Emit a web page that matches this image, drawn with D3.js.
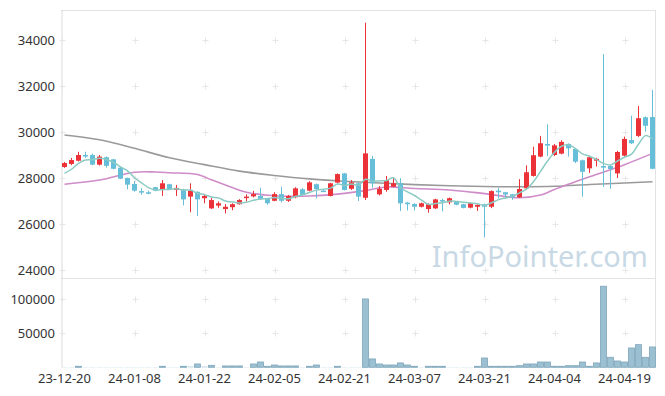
<!DOCTYPE html>
<html>
<head>
<meta charset="utf-8">
<script src="https://cdn.jsdelivr.net/npm/d3@7"></script>
<style>
  body { margin: 0; background: #fff; }
  svg { display: block; font-family: "Noto Sans", sans-serif; }
</style>
</head>
<body>
<svg width="665" height="396"></svg>
<script>
// trading days (YY-MM-DD)
var dates = [
  "23-12-20","23-12-21","23-12-22","23-12-26","23-12-27","23-12-28","24-01-02","24-01-03","24-01-04","24-01-05",
  "24-01-08","24-01-09","24-01-10","24-01-11","24-01-12","24-01-15","24-01-16","24-01-17","24-01-18","24-01-19",
  "24-01-22","24-01-23","24-01-24","24-01-25","24-01-26","24-01-29","24-01-30","24-01-31","24-02-01","24-02-02",
  "24-02-05","24-02-06","24-02-07","24-02-08","24-02-13","24-02-14","24-02-15","24-02-16","24-02-19","24-02-20",
  "24-02-21","24-02-22","24-02-23","24-02-26","24-02-27","24-02-28","24-02-29","24-03-04","24-03-05","24-03-06",
  "24-03-07","24-03-08","24-03-11","24-03-12","24-03-13","24-03-14","24-03-15","24-03-18","24-03-19","24-03-20",
  "24-03-21","24-03-22","24-03-25","24-03-26","24-03-27","24-03-28","24-03-29","24-04-01","24-04-02","24-04-03",
  "24-04-04","24-04-05","24-04-08","24-04-09","24-04-11","24-04-12","24-04-15","24-04-16","24-04-17","24-04-18",
  "24-04-19","24-04-22","24-04-23","24-04-24","24-04-25"
];

var opens = [
  28480,28610,28750,29000,29000,28580,28900,28810,28450,28000,
  27740,27430,27380,27600,27510,27730,27480,27510,27190,27400,
  27120,26680,26800,26650,26730,26860,27130,27200,27220,27120,
  27010,27300,27010,27160,27510,27450,27730,27450,27220,27800,
  28200,27530,27770,27140,28830,27290,27480,27620,27770,26930,
  26870,26750,26650,26680,27040,26940,26960,26860,26710,26750,
  26860,26750,27450,27380,27290,27160,27550,28090,28930,29480,
  29000,29060,29480,29260,28770,28420,28750,28520,28520,28200,
  28970,29650,29830,30640,30650
];
var closes = [
  28650,28780,29000,28980,28580,28930,28530,28400,27970,27710,
  27450,27420,27370,27450,27770,27510,27570,27070,27450,27070,
  27220,27040,26900,26750,26860,27040,27190,27300,27070,26900,
  27300,27010,27220,27550,27260,27810,27520,27440,27770,28170,
  27480,27810,27190,29070,27770,27530,27910,27770,26900,26860,
  26750,26900,26860,27070,27020,27120,26840,26700,26900,26830,
  26750,27430,27380,27280,27160,27520,28250,28990,29510,29410,
  29420,29570,29290,28710,28270,28900,28830,28450,28390,29130,
  29700,29510,30600,30270,28400
];
var highs = [
  28700,28870,29140,29140,29060,29000,28940,28830,28480,28020,
  27870,27560,27450,27620,27910,27750,27700,27530,27770,27420,
  27310,27140,26980,26870,26900,27080,27290,27440,27580,27140,
  27380,27620,27260,27600,27560,27860,27760,27500,27790,28200,
  28220,27910,27810,34750,28960,27650,28090,27990,27990,26960,
  26900,26930,26900,27100,27100,27150,26990,26880,26930,26850,
  26880,27460,27570,27400,27310,27950,28550,29360,29830,30330,
  29480,29640,29510,29290,28800,28960,28880,33390,28560,29180,
  29800,30710,31130,30680,31830
];
var lows = [
  28440,28560,28720,28870,28560,28540,28450,28380,27950,27510,
  27400,27270,27290,27420,27220,27490,27220,26810,26510,26350,
  26900,26650,26700,26460,26600,26840,26980,27160,27050,26840,
  26990,26940,26960,27120,27230,27420,27120,27400,27200,27770,
  27460,27480,27000,27040,27580,27240,27400,27600,26560,26590,
  26590,26720,26490,26650,26550,26850,26810,26680,26680,26570,
  25420,26690,27110,27100,27050,27130,27520,28060,28900,28950,
  28950,29030,28930,28650,27190,28220,28500,27620,27530,28000,
  28930,29480,29780,30010,28380
];
var volumes = [
  300,300,1500,300,300,300,300,300,300,300,
  300,300,300,300,1500,300,300,1500,1000,4900,
  1000,2900,300,2000,2000,2000,300,4900,7800,1500,
  3400,2000,2000,2000,300,1500,3400,300,300,1500,
  300,300,300,100500,12300,4900,3400,3400,6400,3400,
  1500,300,1500,1500,1500,300,300,300,300,1500,
  13700,1500,1500,1500,1500,2400,4900,4900,7800,7800,
  1500,1500,2400,2400,7800,1500,6400,119200,14700,9300,
  7800,28400,33300,14700,29900
];

// 5-day average before enough closes exist
var ma5Head = [28200, 28380, 28640, 28780];
// 20-day and long averages, read at these candle indexes
var ma20Idx = [0,5,10,13,15,19,21,23,26,30,35,40,43,46,50,55,60,65,68,70,75,80,84];
var ma20Val = [27730,27910,28250,28260,28230,28150,27920,27700,27380,27230,27220,27330,27450,27610,27540,27480,27320,27140,27260,27500,28050,28580,29070];
var maLongIdx = [0,5,10,15,20,25,30,35,40,45,50,55,60,65,70,75,80,84];
var maLongVal = [29870,29660,29290,28880,28580,28300,28110,27960,27860,27780,27710,27660,27630,27620,27640,27720,27780,27840];

var priceTicks = [24000, 26000, 28000, 30000, 32000, 34000];
var volTicks = [50000, 100000];
var dateTicks = ["23-12-20","24-01-08","24-01-22","24-02-05","24-02-21","24-03-07","24-03-21","24-04-04","24-04-19"];

(function() {
  var upColor = "#ec3239", downColor = "#66bed8";

  var svg = d3.select("svg");
  var left = 61, right = 656, plotTop = 10, split = 278, bottom = 367.3;

  var x = d3.scaleBand().domain(dates).range([left, right]);
  var cx = function(i) { return x(dates[i]) + x.bandwidth() / 2; };
  var y = d3.scaleLinear().domain([23652, 35304]).range([split, plotTop]);
  var yv = d3.scaleLinear().domain([0, 131300]).range([bottom, split]);

  // frame
  var frame = svg.append("g").attr("stroke", "#e3e3e3").attr("fill", "none");
  frame.append("line").attr("x1", left).attr("x2", right).attr("y1", plotTop + 0.5).attr("y2", plotTop + 0.5);
  frame.append("line").attr("x1", right - 0.5).attr("x2", right - 0.5).attr("y1", plotTop).attr("y2", bottom);
  frame.append("line").attr("x1", left).attr("x2", right).attr("y1", split + 0.5).attr("y2", split + 0.5);
  frame.append("line").attr("x1", 62).attr("x2", 62).attr("y1", plotTop).attr("y2", bottom).attr("stroke", "#dcdcdc");

  // small cross grid marks
  var gx = [62].concat(dateTicks.slice(1).map(function(d) { return cx(dates.indexOf(d)); }));
  var gy = priceTicks.map(function(v) { return y(v); }).concat(volTicks.map(function(v) { return yv(v); }));
  var grid = svg.append("g").attr("stroke", "#e6e6e6").attr("stroke-width", 1);
  gx.forEach(function(px) {
    gy.forEach(function(py) {
      var rx = Math.round(px) + 0.5, ry = Math.round(py) + 0.5;
      grid.append("line").attr("x1", rx - 3).attr("x2", rx + 3).attr("y1", ry).attr("y2", ry);
      grid.append("line").attr("x1", rx).attr("x2", rx).attr("y1", ry - 3).attr("y2", ry + 3);
    });
  });

  // watermark
  svg.append("text")
    .attr("x", 648).attr("y", 267)
    .attr("text-anchor", "end")
    .attr("font-size", 29)
    .attr("fill", "#c8d9e5")
    .text("InfoPointer.com");

  // volume bars
  svg.append("g").selectAll("rect")
    .data(volumes)
    .enter().append("rect")
    .attr("x", function(d, i) { return cx(i) - 3; })
    .attr("width", 6)
    .attr("y", function(d) { return yv(d); })
    .attr("height", function(d) { return bottom - yv(d); })
    .attr("fill", "#9bc0d1")
    .attr("stroke", function(d) { return bottom - yv(d) > 1 ? "#7ea6ba" : "none"; })
    .attr("stroke-width", 0.8);

  // moving averages
  var ma5 = closes.map(function(c, i) {
    if (i < 4) return ma5Head[i];
    return d3.mean(closes.slice(i - 4, i + 1));
  });
  var line = d3.line()
    .x(function(d) { return cx(d[0]); })
    .y(function(d) { return y(d[1]); })
    .curve(d3.curveCatmullRom);

  svg.append("path")
    .datum(maLongIdx.map(function(d, i) { return [d, maLongVal[i]]; }))
    .attr("d", line).attr("fill", "none").attr("stroke", "#9a9a9a").attr("stroke-width", 1.6);
  svg.append("path")
    .datum(ma20Idx.map(function(d, i) { return [d, ma20Val[i]]; }))
    .attr("d", line).attr("fill", "none").attr("stroke", "#cf8cc8").attr("stroke-width", 1.6);

  // candles
  var candle = svg.append("g").selectAll("g")
    .data(dates)
    .enter().append("g");
  candle.append("line")
    .attr("x1", function(d, i) { return cx(i); })
    .attr("x2", function(d, i) { return cx(i); })
    .attr("y1", function(d, i) { return y(highs[i]); })
    .attr("y2", function(d, i) { return y(lows[i]); })
    .attr("stroke", function(d, i) { return closes[i] >= opens[i] ? upColor : downColor; })
    .attr("stroke-width", 1);
  candle.append("rect")
    .attr("x", function(d, i) { return cx(i) - 2.5; })
    .attr("width", 5)
    .attr("y", function(d, i) { return y(Math.max(opens[i], closes[i])); })
    .attr("height", function(d, i) { return Math.max(1.5, Math.abs(y(opens[i]) - y(closes[i]))); })
    .attr("fill", function(d, i) { return closes[i] >= opens[i] ? upColor : downColor; });

  svg.append("path")
    .datum(ma5.map(function(v, i) { return [i, v]; }))
    .attr("d", line).attr("fill", "none").attr("stroke", "#8ccbc3").attr("stroke-width", 1.5);

  // axes
  function styleAxis(g) {
    g.select(".domain").remove();
    g.selectAll("text").attr("font-size", 13).attr("fill", "#333").attr("font-family", "Noto Sans, sans-serif");
  }
  svg.append("g").attr("transform", "translate(62,0)")
    .call(d3.axisLeft(y).tickValues(priceTicks).tickSize(0).tickPadding(7).tickFormat(d3.format("d")))
    .call(styleAxis);
  svg.append("g").attr("transform", "translate(62,0)")
    .call(d3.axisLeft(yv).tickValues(volTicks).tickSize(0).tickPadding(7).tickFormat(d3.format("d")))
    .call(styleAxis);
  svg.append("g").attr("transform", "translate(0," + bottom + ")")
    .call(d3.axisBottom(x).tickValues(dateTicks).tickSize(0).tickPadding(6))
    .call(styleAxis);
})();
</script>
</body>
</html>
